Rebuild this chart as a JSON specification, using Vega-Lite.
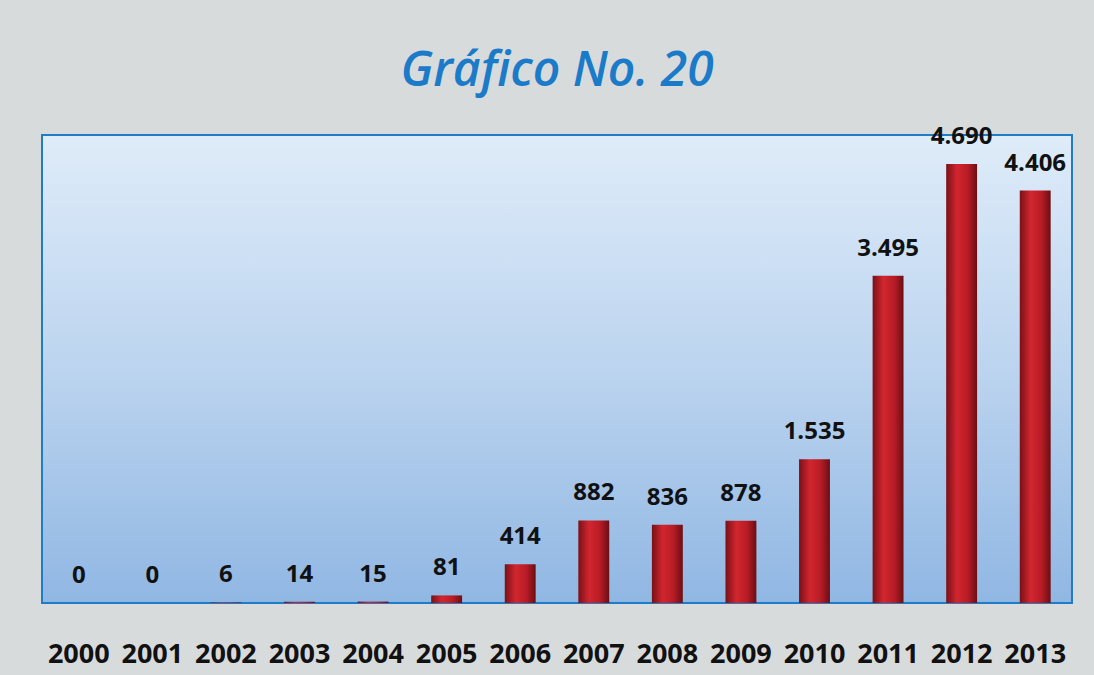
{
  "$schema": "https://vega.github.io/schema/vega-lite/v6.json",
  "autosize": {"type": "none"},
  "width": 1030,
  "height": 468,
  "padding": {"left": 42, "top": 135, "right": 22, "bottom": 72},
  "background": "#d8dbdc",
  "title": {
    "text": "Gráfico No. 20",
    "font": "Open Sans",
    "fontSize": 48,
    "fontWeight": 600,
    "fontStyle": "italic",
    "color": "#1b7bc9",
    "anchor": "middle",
    "baseline": "alphabetic",
    "offset": -9
  },
  "config": {
    "view": {
      "fill": {
        "gradient": "linear",
        "x1": 0, "y1": 0, "x2": 0, "y2": 1,
        "stops": [
          {"offset": 0, "color": "#dfecf9"},
          {"offset": 0.5, "color": "#bcd4ef"},
          {"offset": 1, "color": "#90b7e3"}
        ]
      },
      "stroke": "#1f7cc6",
      "strokeWidth": 2
    }
  },
  "data": {
    "values": [
      {"year": "2000", "value": 0, "label": "0"},
      {"year": "2001", "value": 0, "label": "0"},
      {"year": "2002", "value": 6, "label": "6"},
      {"year": "2003", "value": 14, "label": "14"},
      {"year": "2004", "value": 15, "label": "15"},
      {"year": "2005", "value": 81, "label": "81"},
      {"year": "2006", "value": 414, "label": "414"},
      {"year": "2007", "value": 882, "label": "882"},
      {"year": "2008", "value": 836, "label": "836"},
      {"year": "2009", "value": 878, "label": "878"},
      {"year": "2010", "value": 1535, "label": "1.535"},
      {"year": "2011", "value": 3495, "label": "3.495"},
      {"year": "2012", "value": 4690, "label": "4.690"},
      {"year": "2013", "value": 4406, "label": "4.406"}
    ]
  },
  "encoding": {
    "x": {
      "field": "year",
      "type": "ordinal",
      "scale": {"paddingInner": 0.58, "paddingOuter": 0.29},
      "axis": {
        "title": null,
        "ticks": false,
        "domain": false,
        "labelAngle": 0,
        "labelFont": "Open Sans",
        "labelFontSize": 27,
        "labelFontWeight": "bold",
        "labelColor": "#111111",
        "labelPadding": 38
      }
    },
    "y": {
      "field": "value",
      "type": "quantitative",
      "scale": {"domain": [0, 5000]},
      "axis": null
    }
  },
  "layer": [
    {
      "mark": {
        "type": "bar",
        "fill": {
          "gradient": "linear",
          "x1": 0, "y1": 0, "x2": 1, "y2": 0,
          "stops": [
            {"offset": 0, "color": "#7a1017"},
            {"offset": 0.35, "color": "#d2262f"},
            {"offset": 0.7, "color": "#b71c25"},
            {"offset": 1, "color": "#6c0e14"}
          ]
        }
      }
    },
    {
      "mark": {
        "type": "text",
        "baseline": "middle",
        "dy": -27,
        "font": "Open Sans",
        "fontSize": 24,
        "fontWeight": "bold",
        "color": "#111111"
      },
      "encoding": {"text": {"field": "label"}}
    }
  ]
}
